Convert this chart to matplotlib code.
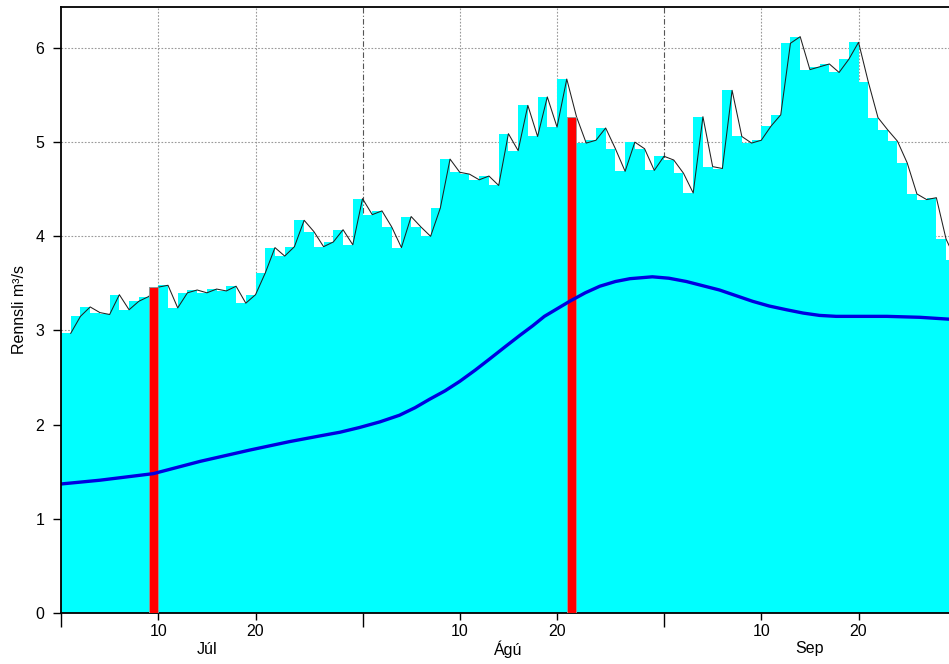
import numpy as np
import matplotlib.pyplot as plt
from matplotlib.transforms import blended_transform_factory

plt.rcParams['font.family'] = ['Liberation Sans', 'DejaVu Sans']

# daily discharge, 1 Jul .. 30 Sep (m3/s)
flow = [2.97, 3.15, 3.25, 3.19, 3.17, 3.38, 3.22, 3.31, 3.36, 3.46,
        3.48, 3.24, 3.40, 3.43, 3.40, 3.44, 3.42, 3.47, 3.29, 3.38,
        3.61, 3.88, 3.79, 3.89, 4.17, 4.05, 3.89, 3.94, 4.07, 3.91,
        4.40, 4.23, 4.27, 4.10, 3.88, 4.21, 4.10, 4.00, 4.30, 4.82,
        4.68, 4.66, 4.60, 4.64, 4.54, 5.09, 4.91, 5.39, 5.06, 5.48,
        5.16, 5.67, 5.27, 4.99, 5.02, 5.15, 4.93, 4.69, 5.00, 4.93,
        4.70, 4.85, 4.81, 4.67, 4.46, 5.27, 4.74, 4.72, 5.55, 5.06,
        4.99, 5.02, 5.17, 5.29, 6.05, 6.12, 5.77, 5.80, 5.83, 5.74,
        5.88, 6.06, 5.64, 5.26, 5.13, 5.01, 4.78, 4.45, 4.39, 4.41,
        3.97, 3.75]
days = np.arange(1, len(flow) + 1)

# highlighted days (10 Jul, 22 Aug)
mark_days = [10, 53]
mark_vals = [3.46, 5.27]

# long-term mean curve
mean_days = [0, 4, 9.5, 14.3, 19.4, 23.5, 26.6, 28.7, 30.7, 32.8, 34.8,
             36.4, 37.9, 39.5, 41, 42.6, 44.1, 45.7, 47.2, 48.5, 49.7,
             51, 52.3, 53.9, 55.4, 57, 58.5, 60.8, 62.5, 64.3, 66, 67.7,
             69.4, 71.1, 72.8, 74.6, 76.3, 78, 79.7, 81.4, 84.9, 88.3, 91.3]
mean_vals = [1.37, 1.41, 1.48, 1.61, 1.73, 1.82, 1.88, 1.92, 1.97, 2.03,
             2.10, 2.18, 2.27, 2.36, 2.46, 2.58, 2.70, 2.83, 2.95, 3.05,
             3.15, 3.23, 3.31, 3.40, 3.47, 3.52, 3.55, 3.57, 3.555, 3.52,
             3.475, 3.43, 3.37, 3.31, 3.26, 3.22, 3.185, 3.16, 3.15, 3.15,
             3.15, 3.14, 3.12]

month_starts = [0, 31, 62]
day_ticks = [10, 20, 41, 51, 72, 82]
day_labels = ['10', '20', '10', '20', '10', '20']
months = ['Júl', 'Ágú', 'Sep']
month_mid = [15, 46, 77]

fig = plt.figure(figsize=(9.49, 6.64), dpi=100)
ax = fig.add_axes([61/949, 51/664, 888/949, 606/664])

ax.bar(days - 1, flow, width=1, align='edge', color='#00ffff', lw=0, zorder=2)
ax.plot(days, flow, color='#202020', lw=0.75, zorder=3)
ax.bar(np.array(mark_days) - 1, mark_vals, width=1, align='edge',
       color='#ff0000', edgecolor='#999999', lw=0.6, zorder=4)
ax.plot(mean_days, mean_vals, color='#0000e0', lw=2.4, zorder=5,
        solid_capstyle='round', solid_joinstyle='round')

ax.set_xlim(0, 91.3)
ax.set_ylim(0, 6.435)

# grid
for y in range(1, 7):
    ax.axhline(y, color='#999999', lw=0.8, ls=(0, (1.5, 1.5)), zorder=1)
for x in day_ticks:
    ax.axvline(x, color='#999999', lw=0.8, ls=(0, (1.5, 1.5)), zorder=1)
for x in month_starts[1:]:
    ax.axvline(x, color='#555555', lw=0.8, ls=(0, (5, 2, 1, 2)), zorder=1)

ax.set_yticks(range(0, 7))
ax.set_xticks(month_starts)
ax.set_xticklabels([])
ax.set_xticks(day_ticks, minor=True)
ax.set_xticklabels(day_labels, minor=True)
ax.tick_params(axis='x', which='major', length=10, width=1, direction='out')
ax.tick_params(axis='x', which='minor', length=5, width=1, direction='out',
               pad=3, labelsize=11.5)
ax.tick_params(axis='y', length=6, width=1, direction='out', labelsize=11.5,
               pad=6)

trans = blended_transform_factory(ax.transData, fig.transFigure)
for m, x in zip(months, month_mid):
    ax.text(x, 15/664, m, transform=trans, ha='center', va='center',
            fontsize=11.5)

ax.set_ylabel('Rennsli m³/s', fontsize=11.5)
ax.yaxis.set_label_coords(-0.038, 0.5)

ax.spines['right'].set_visible(False)
for s in ['left', 'top', 'bottom']:
    ax.spines[s].set_linewidth(1.3)
ax.spines['left'].set_zorder(6)

fig.savefig('out.png', dpi=100)
